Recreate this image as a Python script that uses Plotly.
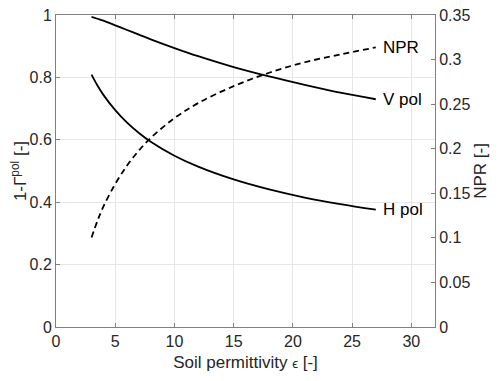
import plotly.graph_objects as go

# permittivity samples and values
permittivity = [3, 3.5, 4, 5, 6, 7, 8, 10, 12, 15, 18, 21, 24, 27]
v_pol = [0.994, 0.988, 0.982, 0.967, 0.952, 0.937, 0.922, 0.894, 0.868, 0.833, 0.803, 0.776, 0.751, 0.730]
h_pol = [0.809, 0.774, 0.744, 0.695, 0.655, 0.622, 0.594, 0.549, 0.514, 0.473, 0.441, 0.415, 0.394, 0.376]
npr = [0.1004, 0.119, 0.1351, 0.1604, 0.1811, 0.198, 0.2121, 0.2343, 0.2511, 0.2702, 0.2852, 0.2970, 0.3056, 0.3137]

left_ticks = [0, 0.2, 0.4, 0.6, 0.8, 1]
right_ticks = [0, 0.05, 0.1, 0.15, 0.2, 0.25, 0.3, 0.35]
x_ticks = [0, 5, 10, 15, 20, 25, 30]

FONT = "Liberation Sans, Arial, sans-serif"
AXIS_GRAY = "#808080"
GRID = "#e6e6e6"

fig = go.Figure()
fig.add_scatter(x=permittivity, y=v_pol, mode="lines",
                line=dict(color="black", width=1.8, shape="spline"), showlegend=False)
fig.add_scatter(x=permittivity, y=h_pol, mode="lines",
                line=dict(color="black", width=1.8, shape="spline"), showlegend=False)
fig.add_scatter(x=permittivity, y=npr, mode="lines", yaxis="y2",
                line=dict(color="black", width=1.8, dash="6px,4px", shape="spline"),
                showlegend=False)

for text, yv, ref in [("NPR", npr[-1], "y2"), ("V pol", v_pol[-1], "y"), ("H pol", h_pol[-1], "y")]:
    fig.add_annotation(x=27.4, y=yv, xref="x", yref=ref, text=text, showarrow=False,
                       xanchor="left", yanchor="middle",
                       font=dict(family=FONT, size=17, color="black"))

# the page body adds an 8px offset, so margins are shifted to land the axes in place
fig.update_layout(
    width=500,
    height=381,
    margin=dict(l=48, r=73, t=7, b=62, autoexpand=False),
    plot_bgcolor="white",
    paper_bgcolor="white",
    font=dict(family=FONT, size=16, color="#262626"),
    xaxis=dict(
        range=[0, 32], tickvals=x_ticks, ticks="inside", ticklen=4, automargin=False,
        showline=True, linecolor=AXIS_GRAY, linewidth=1, mirror="ticks",
        tickcolor=AXIS_GRAY, showgrid=True, gridcolor=GRID, zeroline=False,
        title=dict(text="Soil permittivity <span style='font-size:13px'>ϵ</span> [-]",
                   standoff=6, font=dict(size=17)),
    ),
    yaxis=dict(
        range=[0, 1], tickvals=left_ticks, ticktext=["0", "0.2", "0.4", "0.6", "0.8", "1"],
        ticks="inside", ticklen=4, showline=True, linecolor=AXIS_GRAY, linewidth=1,
        automargin=False, tickcolor=AXIS_GRAY, showgrid=True, gridcolor=GRID, zeroline=False,
        ticklabeloverflow="allow",
        title=dict(text="1-Γ<sup>pol</sup> [-]", standoff=4, font=dict(size=17)),
    ),
    yaxis2=dict(
        range=[0, 0.35], tickvals=right_ticks,
        ticktext=["0", "0.05", "0.1", "0.15", "0.2", "0.25", "0.3", "0.35"],
        overlaying="y", side="right", ticks="inside", ticklen=4, automargin=False,
        showline=True, linecolor=AXIS_GRAY, linewidth=1, tickcolor=AXIS_GRAY,
        showgrid=False, zeroline=False, ticklabeloverflow="allow",
        title=dict(text="NPR [-]", standoff=4, font=dict(size=17)),
    ),
)

fig.write_html("out.html")
